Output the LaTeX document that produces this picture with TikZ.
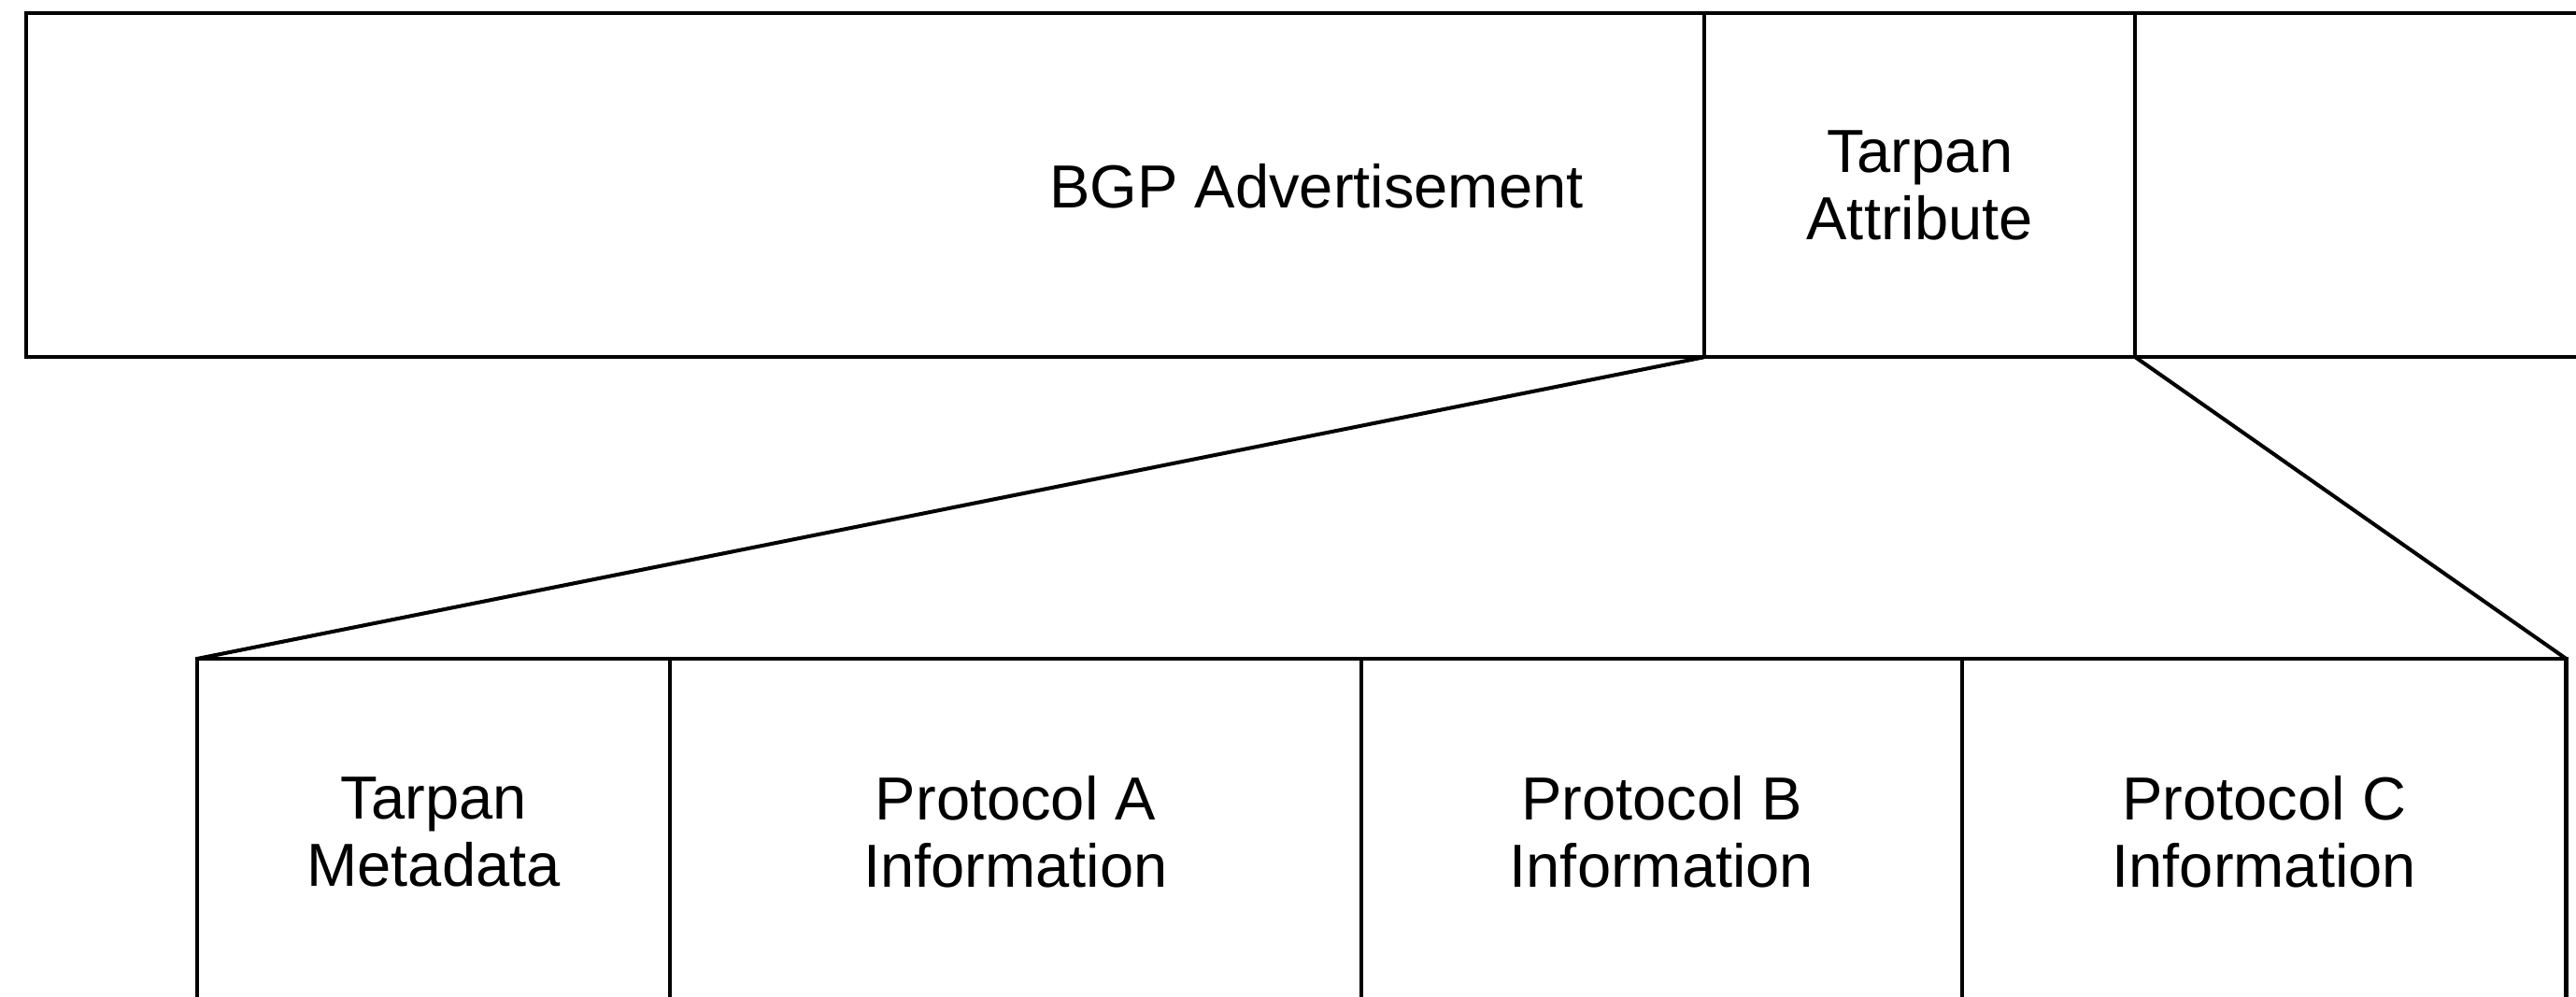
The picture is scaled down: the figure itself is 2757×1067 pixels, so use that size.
\documentclass[tikz,border=0pt]{standalone}
\usepackage{fontspec}
\setmainfont{Liberation Sans}
\usetikzlibrary{positioning}

\tikzset{
  lbl/.style={align=center, font=\fontsize{18.5}{20.5}\selectfont},
  field/.style={lbl, draw, line width=1.15pt, inner sep=0pt, outer sep=0pt},
  link/.style={line width=1.15pt},
}

\begin{document}
\begin{tikzpicture}[x=0.01cm,y=-0.01cm]
  \useasboundingbox (0,0) rectangle (2757,1067);
  \clip (0,0) rectangle (2757,1067);
  % top row
  \node[field, anchor=north west, minimum width=17.95cm, minimum height=3.68cm] (bgp) at (28,14) {};
  \node[lbl] (bgplbl) at (1409,199) {BGP Advertisement};
  \node[field, minimum width=4.61cm, minimum height=3.68cm, right=0pt of bgp] (attr) {Tarpan\\Attribute};
  \node[field, minimum width=6.16cm, minimum height=3.68cm, right=0pt of attr] (rest) {};
  % bottom row
  \node[field, anchor=north west, minimum width=5.06cm, minimum height=3.70cm] (meta) at (211,705) {Tarpan\\Metadata};
  \foreach \nm/\fw/\ab [remember=\nm as \prev (initially meta)] in {protA/7.39/A, protB/6.43/B, protC/6.46/C}
    \node[field, minimum width=\fw cm, minimum height=3.70cm, right=0pt of \prev] (\nm) {Protocol \ab\\Information};
  % expansion lines
  \draw[link] (bgp.south east) -- (meta.north west);
  \draw[link] (attr.south east) -- (protC.north east);
\end{tikzpicture}
\end{document}
